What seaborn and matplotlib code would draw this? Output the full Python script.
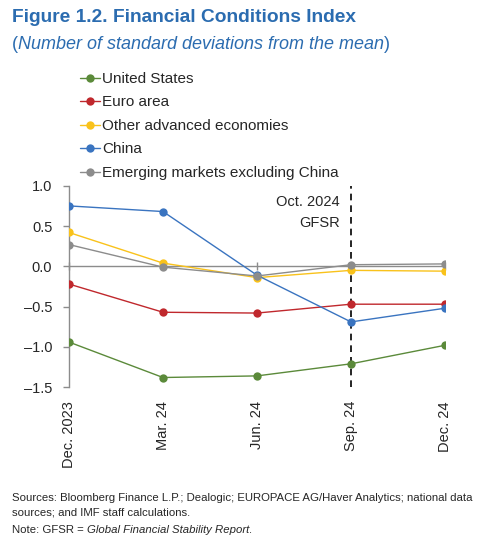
import matplotlib
matplotlib.use("Agg")
import matplotlib.pyplot as plt
import seaborn as sns
import pandas as pd

periods = ["Dec. 2023", "Mar. 24", "Jun. 24", "Sep. 24", "Dec. 24"]
united_states = [-0.94, -1.38, -1.36, -1.21, -0.98]
euro_area = [-0.22, -0.57, -0.58, -0.47, -0.47]
other_advanced = [0.42, 0.04, -0.14, -0.05, -0.06]
china = [0.75, 0.68, -0.11, -0.69, -0.52]
em_ex_china = [0.27, -0.01, -0.12, 0.02, 0.03]

series_names = ["United States", "Euro area", "Other advanced economies",
                "China", "Emerging markets excluding China"]
series_colors = ["#5B8A3A", "#C0282D", "#F9C21B", "#3A74C0", "#8C8C8C"]
yticks = [-1.5, -1.0, -0.5, 0.0, 0.5, 1.0]
ylim = (-1.5, 1.0)

sns.set_style("white")
plt.rcParams['font.family'] = ['Liberation Sans', 'DejaVu Sans']

rows = []
for name, vals in zip(series_names, [united_states, euro_area, other_advanced, china, em_ex_china]):
    for i, v in enumerate(vals):
        rows.append({"pos": i, "series": name, "value": v})
df = pd.DataFrame(rows)

fig = plt.figure(figsize=(5, 5.4), dpi=100)
ax = fig.add_axes([0.138, 0.283, 0.752, 0.373])

# zero line behind the data
ax.axhline(0, color="#8C8C8C", linewidth=1, zorder=1)

sns.lineplot(data=df, x="pos", y="value", hue="series", hue_order=series_names,
             palette=dict(zip(series_names, series_colors)), marker="o",
             markersize=6, markeredgewidth=0, linewidth=1, sort=False, ax=ax, zorder=3)

# Oct. 2024 GFSR marker
ax.axvline(3, color="black", linestyle=(0, (4, 3)), linewidth=1.2, zorder=2)
ax.text(2.88, 0.67, "Oct. 2024\nGFSR", ha="right", va="center", fontsize=10.5,
        linespacing=1.6)

ax.set_xlim(0, 4.0)
ax.set_ylim(*ylim)
ax.set_yticks(yticks)
ax.set_yticklabels([f"{t:.1f}".replace("-", "\u2013") for t in yticks], fontsize=10.5)
ax.set_xticks(range(len(periods)))
ax.set_xticklabels(periods, rotation=90, fontsize=10.5, va="top")
ax.tick_params(axis="x", length=0, pad=10)
ax.tick_params(axis="y", length=4, width=1, color="#8C8C8C", direction="out", pad=8, left=True)
ax.set_xlabel("")
ax.set_ylabel("")
for s in ["top", "right", "bottom"]:
    ax.spines[s].set_visible(False)
ax.spines["left"].set_color("#8C8C8C")
ax.spines["left"].set_linewidth(1)

# small category ticks sitting on the zero line
zero_frac = (0 - ylim[0]) / (ylim[1] - ylim[0])
sec = ax.secondary_xaxis(zero_frac)
sec.set_xticks(range(len(periods)))
sec.tick_params(axis="x", direction="inout", length=6, width=1, color="#8C8C8C",
                labelbottom=False, labeltop=False)
for s in sec.spines.values():
    s.set_visible(False)

handles, labels = ax.get_legend_handles_labels()
ax.legend_.remove()
fig.legend(handles, labels, loc="upper left", bbox_to_anchor=(0.148, 0.878),
           frameon=False, fontsize=11, handlelength=1.3, handletextpad=0.15,
           labelspacing=0.62, borderaxespad=0)


def text_run(x, y, parts, **kw):
    # place text pieces one after another on the same line
    renderer = fig.canvas.get_renderer()
    for txt, extra in parts:
        t = fig.text(x, y, txt, **kw, **extra)
        bb = t.get_window_extent(renderer=renderer)
        x += bb.width / fig.bbox.width


blue = "#2B6CB0"
fig.text(0.024, 0.968, "Figure 1.2. Financial Conditions Index", fontsize=13.8,
         fontweight="bold", color=blue, va="center")
text_run(0.024, 0.918, [("(", {}),
                        ("Number of standard deviations from the mean", {"style": "italic"}),
                        (")", {})], fontsize=13, color=blue, va="center")

fig.text(0.024, 0.064, "Sources: Bloomberg Finance L.P.; Dealogic; EUROPACE AG/Haver Analytics; national data\n"
         "sources; and IMF staff calculations.", fontsize=8.2, va="center", linespacing=1.6)
text_run(0.024, 0.019, [("Note: GFSR = ", {}),
                        ("Global Financial Stability Report", {"style": "italic"}),
                        (".", {})], fontsize=8.2, va="center")

fig.savefig("out.png", dpi=100)
